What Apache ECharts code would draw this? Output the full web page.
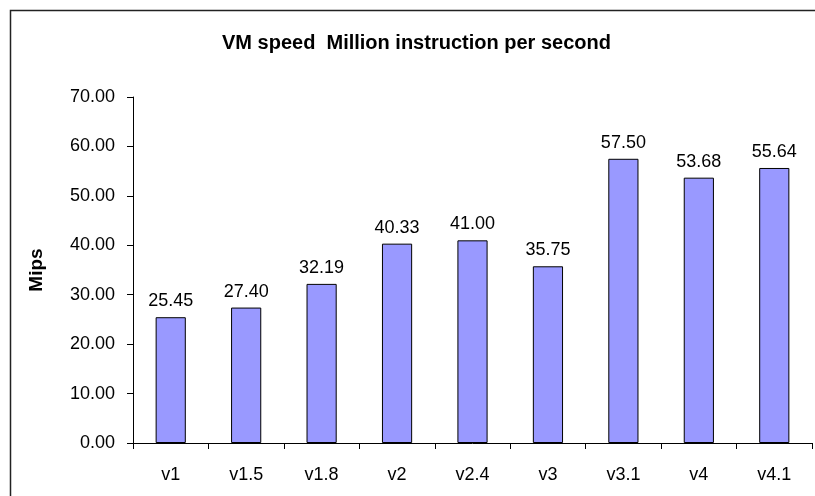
<!DOCTYPE html>
<html>
<head>
<meta charset="utf-8">
<script src="https://cdn.jsdelivr.net/npm/echarts@6/dist/echarts.min.js"></script>
<style>
  html, body { margin: 0; padding: 0; background: #fff; }
  #main { width: 815px; height: 496px; }
</style>
</head>
<body>
<div id="main"></div>
<script>
var versions = ['v1', 'v1.5', 'v1.8', 'v2', 'v2.4', 'v3', 'v3.1', 'v4', 'v4.1'];
var mips = [25.45, 27.40, 32.19, 40.33, 41.00, 35.75, 57.50, 53.68, 55.64];

var dom = document.getElementById('main');
var chart = echarts.init(dom);

chart.setOption({
    backgroundColor: '#fff',
    animation: false,
    textStyle: { fontFamily: 'Arial, "Liberation Sans", sans-serif' },
    graphic: [{
        type: 'rect',
        shape: { x: 10.5, y: 10.5, width: 820, height: 500 },
        style: { fill: null, stroke: '#222', lineWidth: 1.5 },
        silent: true
    }],
    title: {
        text: 'VM speed  Million instruction per second',
        left: 217,
        top: 28,
        textStyle: { color: '#000', fontSize: 20, fontWeight: 'bold' }
    },
    grid: { left: 133, right: 3, top: 97, bottom: 53 },
    xAxis: {
        type: 'category',
        data: versions,
        axisLine: { lineStyle: { color: '#000', width: 1 } },
        axisTick: { show: true, length: 6, lineStyle: { color: '#000' } },
        axisLabel: { color: '#000', fontSize: 18, margin: 23 }
    },
    yAxis: {
        type: 'value',
        min: 0,
        max: 70,
        interval: 10,
        name: 'Mips',
        nameLocation: 'middle',
        nameGap: 87,
        nameRotate: 90,
        nameTextStyle: { color: '#000', fontSize: 19, fontWeight: 'bold' },
        axisLine: { show: true, lineStyle: { color: '#000', width: 1 } },
        axisTick: { show: true, length: 6, lineStyle: { color: '#000' } },
        axisLabel: {
            color: '#000',
            fontSize: 18,
            margin: 18,
            formatter: function (v) { return v.toFixed(2); }
        },
        splitLine: { show: false }
    },
    series: [{
        type: 'bar',
        data: mips,
        barWidth: '40%',
        itemStyle: { color: '#9999FF', borderColor: '#000', borderWidth: 1 },
        label: {
            show: true,
            position: 'top',
            distance: 7,
            color: '#000',
            fontSize: 18,
            formatter: function (p) { return p.value.toFixed(2); }
        }
    }]
});
</script>
</body>
</html>
